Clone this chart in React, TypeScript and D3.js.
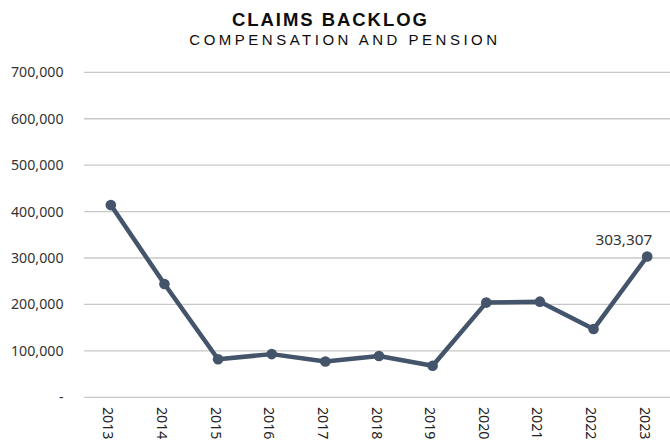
import React from "react";
import * as d3 from "d3";

const years = ["2013","2014","2015","2016","2017","2018","2019","2020","2021","2022","2023"];
const backlog = [414000, 244000, 82000, 93000, 77000, 89000, 68000, 204000, 206000, 147000, 303307];
const yTicks = [0, 100000, 200000, 300000, 400000, 500000, 600000, 700000];
const title = "CLAIMS BACKLOG";
const subtitle = "COMPENSATION AND PENSION";

const W = 670, H = 442;
const left = 84, right = 674, top = 72.3, bottom = 397.3;

export default function App() {
  const x = d3.scaleBand<string>().domain(years).range([left, right]);
  const y = d3.scaleLinear().domain([0, 700000]).range([bottom, top]);
  const fmt = d3.format(",");
  const line = d3.line<number>()
    .x((_, i) => (x(years[i]) as number) + x.bandwidth() / 2)
    .y((d) => y(d));
  const lastIdx = backlog.length - 1;
  const lx = (x(years[lastIdx]) as number) + x.bandwidth() / 2;
  return (
    <svg width={W} height={H} style={{ position: "absolute", left: 0, top: 0, background: "#fff" }}>
      <text x={330.4} y={26} textAnchor="middle" fontFamily="Liberation Sans, Arial" fontWeight="bold" fontSize={18.5} letterSpacing={1.95} fill="#0d0d0d">{title}</text>
      <text x={345} y={45} textAnchor="middle" fontFamily="Liberation Sans, Arial" fontSize={15} letterSpacing={3.5} fill="#0d0d0d">{subtitle}</text>
      {yTicks.map((t) => (
        <g key={t}>
          <line x1={left} x2={W} y1={y(t)} y2={y(t)} stroke="#c8c8c8" strokeWidth={1.3} />
          <text x={63.5} y={y(t) + 5} textAnchor="end" fontFamily="Noto Sans, Open Sans, sans-serif" fontSize={14.2} fill="#333">{t === 0 ? "-" : fmt(t)}</text>
        </g>
      ))}
      {years.map((yr) => {
        const cx = (x(yr) as number) + x.bandwidth() / 2 - 7.5;
        return (
          <text key={yr} transform={`translate(${cx},${407}) rotate(90)`} fontFamily="Noto Sans, Open Sans, sans-serif" fontSize={14.2} fill="#222">{yr}</text>
        );
      })}
      <path d={line(backlog) || ""} fill="none" stroke="#44546A" strokeWidth={4.5} strokeLinejoin="round" />
      {backlog.map((v, i) => (
        <circle key={i} cx={(x(years[i]) as number) + x.bandwidth() / 2} cy={y(v)} r={5.3} fill="#44546A" />
      ))}
      <text x={lx - 23.3} y={y(backlog[lastIdx]) - 11.6} textAnchor="middle" fontFamily="Noto Sans, Open Sans, sans-serif" fontSize={15.3} fill="#333">{fmt(backlog[lastIdx])}</text>
    </svg>
  );
}
